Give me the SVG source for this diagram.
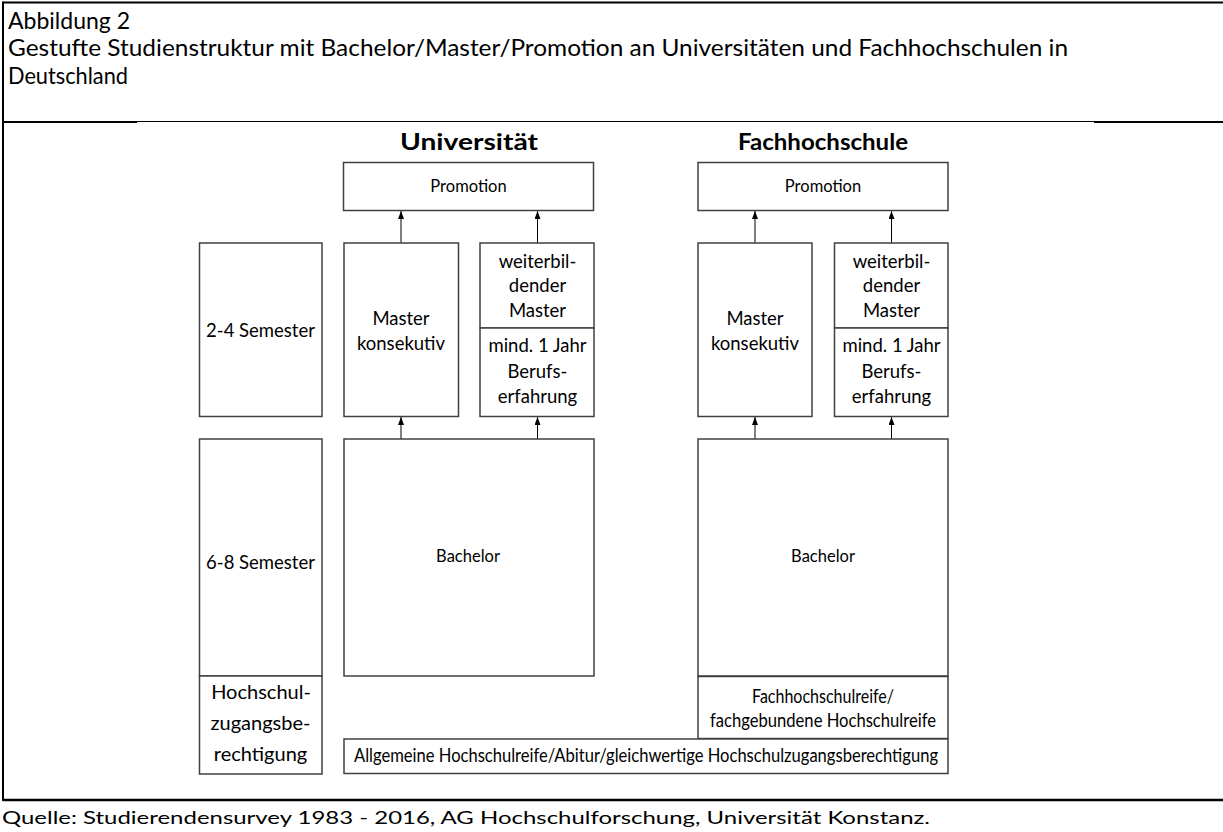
<svg xmlns="http://www.w3.org/2000/svg" width="1223" height="832" viewBox="0 0 1223 832">
<defs>
<style>
text{font-family:Lato,"Open Sans","Liberation Sans",sans-serif;fill:#000}
.h{font-size:23.5px}
.b{font-size:22px;font-weight:bold;text-anchor:middle}
.t{font-size:18.5px;text-anchor:middle}
.l{font-size:20px;text-anchor:middle}
.s{font-size:16.5px;text-anchor:middle}
.box{fill:#fff;stroke:#404040;stroke-width:1.5}
.frame{stroke:#000;fill:none}
.conn{stroke:#000;stroke-width:1;fill:none;marker-end:url(#ah)}
</style>
<marker id="ah" viewBox="0 0 8 6" refX="8" refY="3" markerWidth="8" markerHeight="6" markerUnits="userSpaceOnUse" orient="auto">
<path d="M0,0 L8,3 L0,6 Z" fill="#000"/>
</marker>
</defs>
<rect width="1223" height="832" fill="#fff"/>
<g id="frame">
<line class="frame" x1="3" y1="2.5" x2="1223" y2="2.5" stroke-width="2"/>
<line class="frame" x1="3" y1="1.5" x2="3" y2="801" stroke-width="2"/>
<line class="frame" x1="3" y1="122" x2="137" y2="122" stroke-width="2"/>
<line class="frame" x1="137" y1="121.5" x2="1094" y2="121.5" stroke-width="1.2"/>
<line class="frame" x1="1094" y1="122" x2="1223" y2="122" stroke-width="2.2"/>
<line class="frame" x1="3" y1="800" x2="1223" y2="800" stroke-width="2.5"/>
</g>
<g id="header">
<text class="h" x="8" y="29" textLength="122" lengthAdjust="spacingAndGlyphs">Abbildung 2</text>
<text class="h" x="8" y="56" textLength="1060" lengthAdjust="spacingAndGlyphs">Gestufte Studienstruktur mit Bachelor/Master/Promotion an Universitäten und Fachhochschulen in</text>
<text class="h" x="8" y="84" textLength="120" lengthAdjust="spacingAndGlyphs">Deutschland</text>
<text class="b" x="469" y="150" textLength="138" lengthAdjust="spacingAndGlyphs">Universität</text>
<text class="b" x="823" y="150" textLength="170" lengthAdjust="spacingAndGlyphs">Fachhochschule</text>
</g>
<g id="connectors">
<line class="conn" x1="401" y1="243" x2="401" y2="211"/>
<line class="conn" x1="537.5" y1="243" x2="537.5" y2="211"/>
<line class="conn" x1="755" y1="243" x2="755" y2="211"/>
<line class="conn" x1="891.5" y1="243" x2="891.5" y2="211"/>
<line class="conn" x1="401" y1="439" x2="401" y2="417"/>
<line class="conn" x1="537.5" y1="439" x2="537.5" y2="417"/>
<line class="conn" x1="755" y1="439" x2="755" y2="417"/>
<line class="conn" x1="891.5" y1="439" x2="891.5" y2="417"/>
</g>
<g id="uni-promotion"><rect class="box" x="343.5" y="162.5" width="250" height="48"/><text class="s" x="468.5" y="192">Promotion</text></g>
<g id="fh-promotion"><rect class="box" x="698" y="162.5" width="250" height="48"/><text class="s" x="823" y="192">Promotion</text></g>
<g id="sem-2-4"><rect class="box" x="199.5" y="243" width="122.5" height="173.5"/><text class="t" x="260.5" y="337">2-4 Semester</text></g>
<g id="uni-master-konsekutiv"><rect class="box" x="344" y="243" width="114.5" height="173.5"/><text class="t" x="401" y="325">Master</text><text class="t" x="401" y="350">konsekutiv</text></g>
<g id="uni-weiterbildend"><rect class="box" x="480" y="243" width="114" height="85"/><text class="t" x="537.5" y="268">weiterbil-</text><text class="t" x="537.5" y="292">dender</text><text class="t" x="537.5" y="317">Master</text></g>
<g id="uni-berufserfahrung"><rect class="box" x="480" y="328" width="114" height="88.5"/><text class="t" x="537.5" y="352">mind. 1 Jahr</text><text class="t" x="537.5" y="378">Berufs-</text><text class="t" x="537.5" y="403">erfahrung</text></g>
<g id="fh-master-konsekutiv"><rect class="box" x="698" y="243" width="114" height="173.5"/><text class="t" x="755" y="325">Master</text><text class="t" x="755" y="350">konsekutiv</text></g>
<g id="fh-weiterbildend"><rect class="box" x="834.5" y="243" width="113.5" height="85"/><text class="t" x="891.5" y="268">weiterbil-</text><text class="t" x="891.5" y="292">dender</text><text class="t" x="891.5" y="317">Master</text></g>
<g id="fh-berufserfahrung"><rect class="box" x="834.5" y="328" width="113.5" height="88.5"/><text class="t" x="891.5" y="352">mind. 1 Jahr</text><text class="t" x="891.5" y="378">Berufs-</text><text class="t" x="891.5" y="403">erfahrung</text></g>
<g id="sem-6-8"><rect class="box" x="199.5" y="439" width="122.5" height="237"/><text class="t" x="260.5" y="569">6-8 Semester</text></g>
<g id="uni-bachelor"><rect class="box" x="344" y="439" width="250" height="237"/><text class="s" x="468" y="562">Bachelor</text></g>
<g id="fh-bachelor"><rect class="box" x="698" y="439" width="250" height="237"/><text class="s" x="823" y="562">Bachelor</text></g>
<g id="hzb"><rect class="box" x="199.5" y="676" width="122.5" height="98"/><text class="l" x="261" y="699">Hochschul-</text><text class="l" x="260.5" y="730">zugangsbe-</text><text class="l" x="260.5" y="761">rechtigung</text></g>
<g id="fh-reife"><rect class="box" x="698" y="676.5" width="250" height="62"/><text class="t" x="823" y="703" textLength="142" lengthAdjust="spacingAndGlyphs">Fachhochschulreife/</text><text class="t" x="823" y="727" textLength="226" lengthAdjust="spacingAndGlyphs">fachgebundene Hochschulreife</text></g>
<g id="abitur"><rect class="box" x="344" y="739" width="604" height="34.5"/><text class="t" x="646" y="762" textLength="584" lengthAdjust="spacingAndGlyphs">Allgemeine Hochschulreife/Abitur/gleichwertige Hochschulzugangsberechtigung</text></g>
<g id="source"><text x="2" y="824" font-size="17.5" textLength="928" lengthAdjust="spacingAndGlyphs">Quelle: Studierendensurvey 1983 - 2016, AG Hochschulforschung, Universität Konstanz.</text></g>
</svg>
